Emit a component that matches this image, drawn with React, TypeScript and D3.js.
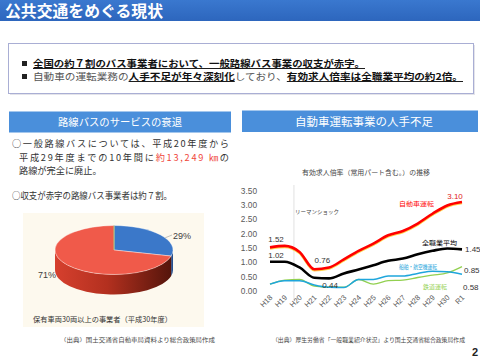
import React from "react";
import * as d3 from "d3";

const years = ["H18", "H19", "H20", "H21", "H22", "H23", "H24", "H25", "H26", "H27", "H28", "H29", "H30", "R1"];
const driverRatio = [1.52, 1.57, 1.36, 0.76, 0.82, 1.1, 1.4, 1.65, 1.94, 2.09, 2.35, 2.69, 2.98, 3.1];
const allJobsRatio = [1.02, 1.02, 0.82, 0.46, 0.44, 0.61, 0.75, 0.9, 1.05, 1.13, 1.28, 1.4, 1.48, 1.45];
const shipAirRatio = [0.24, 0.36, 0.36, 0.21, 0.13, 0.12, 0.4, 0.4, 0.52, 0.52, 0.61, 0.69, 0.67, 0.58];
const railRatio = [0.24, 0.38, 0.4, 0.17, 0.13, 0.13, 0.4, 0.24, 0.36, 0.38, 0.47, 0.55, 0.63, 0.85];
const yTicks = [0, 0.5, 1, 1.5, 2, 2.5, 3, 3.5];
const seriesNames = ["自動車運転", "全職業平均", "船舶・航空機運転", "鉄道運転"];

const pieCategories = ["黒字", "赤字"];
const pieValues = [29, 71];
const pieLabels = ["29%", "71%"];

const JP = '"Noto Sans CJK JP", "Noto Sans", sans-serif';
const NUM = '"Liberation Sans", Arial, sans-serif';

export default function App() {
  const x = d3.scalePoint<string>().domain(years).range([270, 462]);
  const y = d3.scaleLinear().domain([0, 3.5]).range([291, 190.5]);
  const line = d3
    .line<number>()
    .x((_, i) => x(years[i]) as number)
    .y((d) => y(d))
    .curve(d3.curveMonotoneX);

  const step = x.step();
  const lehmanX = (x("H19") as number) + step * 0.62;

  const last = years.length - 1;
  const xr = (i: number) => x(years[i]) as number;

  // pie
  const cx = 114, cy = 250, rx = 59, ry = 24.5, depth = 20;
  const arcs = d3.pie<number>().sort(null)(pieValues);
  const pt = (a: number, dy = 0) => `${cx + rx * Math.sin(a)},${cy - ry * Math.cos(a) + dy}`;
  const topPath = (a0: number, a1: number) =>
    `M${cx},${cy} L${pt(a0)} A${rx},${ry} 0 ${a1 - a0 > Math.PI ? 1 : 0} 1 ${pt(a1)} Z`;
  const sidePath = (a0: number, a1: number) => {
    const s = Math.max(a0, Math.PI / 2);
    const e = Math.min(a1, (3 * Math.PI) / 2);
    if (s >= e) return null;
    return `M${pt(s)} A${rx},${ry} 0 0 1 ${pt(e)} L${pt(e, depth)} A${rx},${ry} 0 0 0 ${pt(s, depth)} Z`;
  };
  const topColors = ["#3b78c9", "#f05a4a"];
  const sideFills = ["#244f8f", "url(#redSide)"];

  const blueMid = 1.05;
  const leaderStart = [cx + rx * Math.sin(blueMid), cy - ry * Math.cos(blueMid)];

  return (
    <svg
      width={480}
      height={360}
      viewBox="0 0 480 360"
      style={{ position: "absolute", left: 0, top: 0, background: "#fff" }}
    >
      <defs>
        <linearGradient id="redSide" x1="0" x2="1" y1="0" y2="0">
          <stop offset="0" stopColor="#d6402e" />
          <stop offset="0.45" stopColor="#b3301f" />
          <stop offset="1" stopColor="#55150b" />
        </linearGradient>
        <linearGradient id="titleGrad" x1="0" x2="0" y1="0" y2="1">
          <stop offset="0" stopColor="#3a78cf" />
          <stop offset="1" stopColor="#2d66bd" />
        </linearGradient>
      </defs>

      {/* title bar */}
      <rect x={0} y={0} width={480} height={21} fill="url(#titleGrad)" />
      <text x={5} y={17} fill="#fff" fontFamily={JP} fontWeight="bold" fontSize={15.5} textLength={158} lengthAdjust="spacingAndGlyphs">
        公共交通をめぐる現状
      </text>

      {/* bullet box */}
      <rect x={10} y={45} width={465} height={50} fill="#e4e4ea" />
      <rect x={8.5} y={43.5} width={465} height={50} fill="#fff" stroke="#a9aed4" strokeWidth={1} />
      <rect x={22} y={61} width={5} height={5} fill="#222" />
      <rect x={22} y={74} width={5} height={5} fill="#222" />
      <text x={33} y={67} fontFamily={JP} fontSize={9.5} fontWeight="bold" fill="#111" textLength={332} lengthAdjust="spacingAndGlyphs" style={{ textDecoration: "underline" }}>
        全国の約７割のバス事業者において、一般路線バス事業の収支が赤字。
      </text>
      <text x={33} y={80} fontFamily={JP} fontSize={9.5} fill="#555" textLength={430} lengthAdjust="spacingAndGlyphs">
        <tspan>自動車の運転業務の</tspan>
        <tspan fontWeight="bold" fill="#111" style={{ textDecoration: "underline" }}>人手不足が年々深刻化</tspan>
        <tspan>しており、</tspan>
        <tspan fontWeight="bold" fill="#111" style={{ textDecoration: "underline" }}>有効求人倍率は全職業平均の約2倍。</tspan>
      </text>

      {/* section headers */}
      <rect x={9} y={111.5} width={222} height={21} fill="#4a8fdb" />
      <text x={120} y={126} textAnchor="middle" fill="#fff" fontFamily={JP} fontSize={10.5} textLength={124} lengthAdjust="spacingAndGlyphs">
        路線バスのサービスの衰退
      </text>
      <rect x={242} y={110.5} width={236} height={21.5} fill="#4a8fdb" />
      <text x={364} y={125.5} textAnchor="middle" fill="#fff" fontFamily={JP} fontSize={11} textLength={138} lengthAdjust="spacingAndGlyphs">
        自動車運転事業の人手不足
      </text>

      {/* left paragraph */}
      <g fontFamily={JP} fontSize={9.2} fill="#333">
        <text x={12} y={147} textLength={217} lengthAdjust="spacing">○一般路線バスについては、平成20年度から</text>
        <text x={19} y={160.5} textLength={210} lengthAdjust="spacing">
          平成29年度までの10年間に<tspan fill="#f0463a">約13,249 ㎞</tspan>の
        </text>
        <text x={19} y={174}>路線が完全に廃止。</text>
        <text x={12} y={199} textLength={160} lengthAdjust="spacingAndGlyphs">○収支が赤字の路線バス事業者は約７割。</text>
      </g>

      {/* pie panel */}
      <rect x={23} y={213} width={181} height={114} fill="#fdf9ee" />
      {arcs.map((a, i) => {
        const p = sidePath(a.startAngle, a.endAngle);
        return p ? <path key={"s" + i} d={p} fill={sideFills[i]} /> : null;
      })}
      {arcs.map((a, i) => (
        <path key={"t" + i} d={topPath(a.startAngle, a.endAngle)} fill={topColors[i]} stroke="#fff" strokeWidth={0.4} />
      ))}
      <line x1={cx} y1={cy} x2={cx} y2={cy - ry} stroke="#9bbb59" strokeWidth={0.8} />
      <line x1={leaderStart[0]} y1={leaderStart[1]} x2={172} y2={235} stroke="#999" strokeWidth={0.6} />
      <text x={173} y={238.5} fontFamily={NUM} fontSize={9} fill="#404040">{pieLabels[0]}</text>
      <text x={38} y={277.5} fontFamily={NUM} fontSize={9} fill="#404040">{pieLabels[1]}</text>
      <text x={33} y={322} fontFamily={JP} fontSize={7.3} fill="#333" textLength={139} lengthAdjust="spacingAndGlyphs">
        保有車両30両以上の事業者（平成30年度）
      </text>

      {/* sources */}
      <text x={60} y={342} fontFamily={JP} fontSize={5.5} fill="#444" textLength={155} lengthAdjust="spacingAndGlyphs">
        （出典）国土交通省自動車局資料より総合政策局作成
      </text>
      <text x={272} y={342} fontFamily={JP} fontSize={5.5} fill="#444" textLength={193} lengthAdjust="spacingAndGlyphs">
        （出典）厚生労働省「一般職業紹介状況」より国土交通省総合政策局作成
      </text>
      <text x={478} y={356} textAnchor="end" fontFamily={NUM} fontWeight="bold" fontSize={11} fill="#222">2</text>

      {/* line chart */}
      <text x={366} y={174.5} textAnchor="middle" fontFamily={JP} fontSize={6.6} fill="#444" textLength={128} lengthAdjust="spacingAndGlyphs">
        有効求人倍率（常用パート含む。）の推移
      </text>
      {yTicks.map((t) => (
        <text key={t} x={257} y={y(t) + 3} textAnchor="end" fontFamily={NUM} fontSize={8.3} fill="#595959">
          {t.toFixed(2)}
        </text>
      ))}
      <line x1={lehmanX} x2={lehmanX} y1={185} y2={300} stroke="#d9d9d9" strokeWidth={0.8} />
      <text x={lehmanX + 1} y={214} fontFamily={JP} fontSize={5.5} fill="#444">リーマンショック</text>
      {years.map((yr) => (
        <text
          key={yr}
          transform={`translate(${(x(yr) as number) + 3},${298}) rotate(-45)`}
          textAnchor="end"
          fontFamily={NUM}
          fontSize={7.5}
          fill="#595959"
        >
          {yr}
        </text>
      ))}

      <path d={line(railRatio) || ""} fill="none" stroke="#92d050" strokeWidth={1.3} />
      <path d={line(shipAirRatio) || ""} fill="none" stroke="#1fa6dc" strokeWidth={1.5} />
      <path d={line(allJobsRatio) || ""} fill="none" stroke="#000" strokeWidth={2.6} strokeLinejoin="round" />
      <g transform="translate(0,1)">
        <path d={line(driverRatio) || ""} fill="none" stroke="#ffc000" strokeWidth={2.6} opacity={0.7} />
      </g>
      <path d={line(driverRatio) || ""} fill="none" stroke="#ff0000" strokeWidth={2.6} strokeLinejoin="round" />

      {/* data labels */}
      <g fontFamily={NUM} fontSize={8} fill="#333">
        <text x={xr(0) + 6} y={y(driverRatio[0]) - 5} textAnchor="middle">{driverRatio[0].toFixed(2)}</text>
        <text x={xr(0) + 6} y={y(allJobsRatio[0]) - 4} textAnchor="middle">{allJobsRatio[0].toFixed(2)}</text>
        <text x={xr(3) + 8} y={y(driverRatio[3]) - 6} textAnchor="middle">{driverRatio[3].toFixed(2)}</text>
        <text x={xr(4) + 1} y={y(allJobsRatio[4]) + 10} textAnchor="middle">{allJobsRatio[4].toFixed(2)}</text>
        <text x={xr(last) - 7} y={y(driverRatio[last]) - 3} textAnchor="middle" fill="#e0201a">{driverRatio[last].toFixed(2)}</text>
        <text x={xr(last) + 3} y={y(allJobsRatio[last]) + 3}>{allJobsRatio[last].toFixed(2)}</text>
        <text x={xr(last) + 2} y={y(railRatio[last]) + 6}>{railRatio[last].toFixed(2)}</text>
        <text x={xr(last) + 1} y={y(shipAirRatio[last]) + 16}>{shipAirRatio[last].toFixed(2)}</text>
      </g>

      {/* series name labels */}
      <g fontFamily={JP} fontSize={5.8}>
        <text x={399} y={206} fill="#ff0000" textLength={35} lengthAdjust="spacingAndGlyphs">{seriesNames[0]}</text>
        <text x={422} y={245} fill="#000" textLength={35} lengthAdjust="spacingAndGlyphs">{seriesNames[1]}</text>
        <text x={399} y={269} fill="#1fa6dc" textLength={38} lengthAdjust="spacingAndGlyphs">{seriesNames[2]}</text>
        <text x={423} y={289} fill="#92d050" textLength={24} lengthAdjust="spacingAndGlyphs">{seriesNames[3]}</text>
      </g>
      <title>{pieCategories.join("/")}</title>
    </svg>
  );
}
